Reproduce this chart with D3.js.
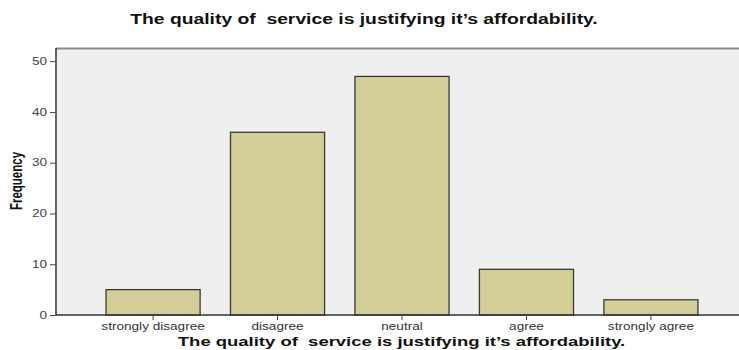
<!DOCTYPE html>
<html>
<head>
<meta charset="utf-8">
<script src="https://cdn.jsdelivr.net/npm/d3@7"></script>
<style>
  body { margin: 0; background: #fff; }
  svg { display: block; overflow: hidden; }
</style>
</head>
<body>
<svg id="chart" width="739" height="350"></svg>
<script>
const categories = ['strongly disagree', 'disagree', 'neutral', 'agree', 'strongly agree'];
const frequencies = [5, 36, 47, 9, 3];
const yTicks = [0, 10, 20, 30, 40, 50];
const titleText = 'The quality of  service is justifying it\u2019s affordability.';

const FONT = 'Arial, "Liberation Sans", sans-serif';
// the source picture is stretched sideways, so the text is too
const STRETCH = 1.36;

const svg = d3.select('#chart');
const plot = { left: 56, top: 48, right: 748, bottom: 315 };

const xScale = d3.scaleBand()
  .domain(categories)
  .range([plot.left, plot.right])
  .paddingInner(0.244)
  .paddingOuter(0.402);

const yScale = d3.scaleLinear()
  .domain([0, 52.6])
  .range([plot.bottom, plot.top]);

// backdrop
svg.append('rect')
  .attr('x', plot.left)
  .attr('y', plot.top)
  .attr('width', 739 - plot.left)
  .attr('height', plot.bottom - plot.top)
  .attr('fill', '#efefef');

// top frame line
svg.append('line')
  .attr('x1', plot.left).attr('x2', 739)
  .attr('y1', plot.top + 0.5).attr('y2', plot.top + 0.5)
  .attr('stroke', '#8a8a8a')
  .attr('stroke-width', 2);

// bars
svg.selectAll('.bar')
  .data(categories)
  .enter()
  .append('rect')
  .attr('class', 'bar')
  .attr('x', d => xScale(d))
  .attr('width', xScale.bandwidth())
  .attr('y', (d, i) => yScale(frequencies[i]))
  .attr('height', (d, i) => plot.bottom - yScale(frequencies[i]))
  .attr('fill', '#d3ce97')
  .attr('stroke', '#3a3a30')
  .attr('stroke-width', 1.3);

// y axis
const yAxis = d3.axisLeft(yScale)
  .tickValues(yTicks)
  .tickSize(6)
  .tickPadding(3);
const yAxisEl = svg.append('g')
  .attr('transform', `translate(${plot.left},0)`)
  .call(yAxis);
yAxisEl.select('.domain')
  .attr('d', `M0,${plot.top}V${plot.bottom}`)
  .attr('stroke', '#333')
  .attr('stroke-width', 1.5);
yAxisEl.selectAll('line').attr('stroke', '#444');
yAxisEl.selectAll('text')
  .attr('x', -9 / STRETCH)
  .attr('transform', `scale(${STRETCH},1)`)
  .style('font-family', FONT)
  .style('font-size', '10px')
  .style('fill', '#444');

// x axis
const xAxis = d3.axisBottom(xScale)
  .tickSize(5)
  .tickPadding(3);
const xAxisEl = svg.append('g')
  .attr('transform', `translate(0,${plot.bottom})`)
  .call(xAxis);
xAxisEl.select('.domain')
  .attr('d', `M${plot.left},0H739`)
  .attr('stroke', '#333')
  .attr('stroke-width', 1.5);
xAxisEl.selectAll('line').attr('stroke', '#444');
xAxisEl.selectAll('text')
  .attr('transform', `scale(${STRETCH},1)`)
  .style('font-family', FONT)
  .style('font-size', '10px')
  .style('fill', '#333');

// titles
function drawTitle(x, y, size, sx) {
  return svg.append('text')
    .attr('transform', `translate(${x},${y}) scale(${sx},1)`)
    .attr('text-anchor', 'middle')
    .attr('xml:space', 'preserve')
    .style('white-space', 'pre')
    .style('font-family', FONT)
    .style('font-weight', 'bold')
    .style('font-size', size)
    .style('fill', '#111')
    .text(titleText);
}

drawTitle(364, 23.5, '13.8px', 1.4);
drawTitle(401.5, 346, '13.4px', 1.38);

svg.append('text')
  .attr('transform', `translate(21.5,181) scale(${STRETCH},1) rotate(-90)`)
  .attr('text-anchor', 'middle')
  .style('font-family', FONT)
  .style('font-weight', 'bold')
  .style('font-size', '11.5px')
  .style('fill', '#111')
  .text('Frequency');
</script>
</body>
</html>
